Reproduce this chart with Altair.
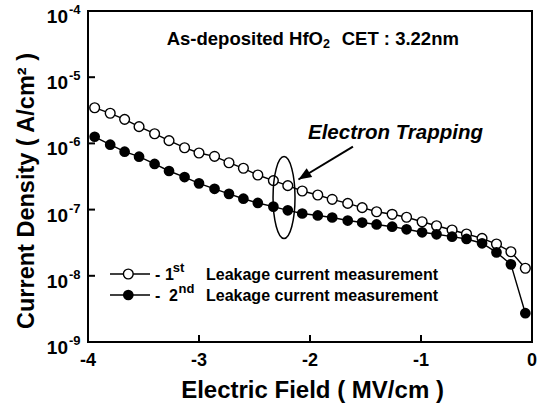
import altair as alt
import pandas as pd

# ---------------- data ----------------
field = [-3.94, -3.80, -3.67, -3.54, -3.40, -3.27, -3.13, -3.00, -2.86, -2.73,
         -2.60, -2.47, -2.33, -2.20, -2.07, -1.93, -1.80, -1.66, -1.53, -1.40,
         -1.26, -1.13, -0.99, -0.86, -0.72, -0.59, -0.45, -0.32, -0.19, -0.06]
j_first = [3.46e-6, 2.85e-6, 2.31e-6, 1.79e-6, 1.40e-6, 1.10e-6, 8.61e-7, 7.16e-7, 6.38e-7, 5.11e-7,
           4.21e-7, 3.33e-7, 2.74e-7, 2.30e-7, 1.91e-7, 1.66e-7, 1.43e-7, 1.24e-7, 1.07e-7, 9.29e-8,
           8.49e-8, 7.66e-8, 6.56e-8, 5.71e-8, 4.92e-8, 4.28e-8, 3.68e-8, 3.02e-8, 2.31e-8, 1.30e-8]
j_second = [1.26e-6, 9.55e-7, 7.50e-7, 6.30e-7, 4.89e-7, 3.83e-7, 3.10e-7, 2.49e-7, 2.06e-7, 1.73e-7,
            1.46e-7, 1.26e-7, 1.11e-7, 9.75e-8, 8.73e-8, 8.15e-8, 7.60e-8, 6.84e-8, 6.38e-8, 5.96e-8,
            5.52e-8, 5.04e-8, 4.54e-8, 4.24e-8, 3.90e-8, 3.60e-8, 3.10e-8, 2.26e-8, 1.49e-8, 2.72e-9]

x_ticks = [-4, -3, -2, -1, 0]
x_tick_labels = ["-4", "-3", "-2", "-1", "0"]
y_ticks = [1e-4, 1e-5, 1e-6, 1e-7, 1e-8, 1e-9]
y_tick_base = ["10", "10", "10", "10", "10", "10"]
y_tick_exp = ["-4", "-5", "-6", "-7", "-8", "-9"]

# annotation anchors (data coordinates)
ellipse_at = {"E": [-2.234], "J": [1.52e-7]}
arrow_from = {"E": [-1.613], "J": [8.97e-7]}
arrow_to = {"E": [-2.104], "J": [2.85e-7]}

FONT = "Liberation Sans"
W, H = 444, 331

xs = alt.Scale(domain=[-4, 0], nice=False, zero=False)
ys = alt.Scale(type="log", domain=[1e-9, 1e-4], nice=False)


def X(f):
    return alt.X(f, type="quantitative", scale=xs, axis=None)


def Y(f):
    return alt.Y(f, type="quantitative", scale=ys, axis=None)


df = pd.DataFrame({"E": field, "J1": j_first, "J2": j_second})
base = alt.Chart(df)

line1 = base.mark_line(color="black", strokeWidth=1.4).encode(x=X("E"), y=Y("J1"))
pts1 = base.mark_point(shape="circle", filled=True, fill="white", stroke="black",
                       strokeWidth=1.4, size=95, opacity=1).encode(x=X("E"), y=Y("J1"))
line2 = base.mark_line(color="black", strokeWidth=1.4).encode(x=X("E"), y=Y("J2"))
pts2 = base.mark_point(shape="circle", filled=True, color="black",
                       size=115, opacity=1).encode(x=X("E"), y=Y("J2"))

# inward ticks
xt_df = pd.DataFrame({"v": x_ticks, "lab": x_tick_labels})
yt_df = pd.DataFrame({"J": y_ticks, "b": y_tick_base, "e": y_tick_exp})

xtick = alt.Chart(xt_df).mark_rule(color="black", strokeWidth=2).encode(
    x=X("v"), y=alt.value(H), y2=alt.value(H - 7))
ytick = alt.Chart(yt_df).mark_rule(color="black", strokeWidth=2).encode(
    y=Y("J"), x=alt.value(0), x2=alt.value(7))

xlab = alt.Chart(xt_df).mark_text(font=FONT, fontWeight="bold", fontSize=18, align="center",
                                  baseline="alphabetic", color="black").encode(
    x=X("v"), y=alt.value(H + 24), text="lab:N")
ylab_b = alt.Chart(yt_df).mark_text(font=FONT, fontWeight="bold", fontSize=19, align="right",
                                    baseline="alphabetic", dy=12, color="black").encode(
    y=Y("J"), x=alt.value(-20), text="b:N")
ylab_e = alt.Chart(yt_df).mark_text(font=FONT, fontWeight="bold", fontSize=13, align="left",
                                    baseline="alphabetic", dy=3, color="black").encode(
    y=Y("J"), x=alt.value(-19), text="e:N")

# axis titles
xtitle = alt.Chart(pd.DataFrame({"t": ["Electric Field ( MV/cm )"]})).mark_text(
    font=FONT, fontWeight="bold", fontSize=24, align="center", baseline="alphabetic",
    color="black").encode(x=alt.value(224.5), y=alt.value(387), text="t:N")
ytitle = alt.Chart(pd.DataFrame({"t": ["Current Density ( A/cm\u00b2 )"]})).mark_text(
    font=FONT, fontWeight="bold", fontSize=23.5, align="center", baseline="alphabetic",
    angle=270, color="black").encode(x=alt.value(-54), y=alt.value(180), text="t:N")


def txt(s, x, y, size, **kw):
    return alt.Chart(pd.DataFrame({"t": [s]})).mark_text(
        font=FONT, fontWeight="bold", fontSize=size, align="left", baseline="alphabetic",
        color="black", **kw).encode(x=alt.value(x), y=alt.value(y), text="t:N")


# header annotation
head1 = txt("As-deposited HfO", 78.7, 34, 18.5)
head2 = txt("2", 235, 37, 12.5)
head3 = txt("CET : 3.22nm", 253.7, 34, 18.5)

trap = txt("Electron Trapping", 220, 128.3, 20.5, fontStyle="italic")

# ellipse and arrow
ell_path = "M 0 -1 A 0.268 1 0 1 1 0 1 A 0.268 1 0 1 1 0 -1 Z"
ellipse = alt.Chart(pd.DataFrame(ellipse_at)).mark_point(
    shape=ell_path, size=6724, filled=False, stroke="black", strokeWidth=1.5, opacity=1).encode(
    x=X("E"), y=Y("J"))

arr_df = pd.DataFrame({"E": arrow_from["E"], "J": arrow_from["J"],
                       "E2": arrow_to["E"], "J2": arrow_to["J"]})
arrow_line = alt.Chart(arr_df).mark_rule(color="black", strokeWidth=2).encode(
    x=X("E"), y=Y("J"), x2="E2:Q", y2="J2:Q")
arrow_head = alt.Chart(pd.DataFrame(arrow_to)).mark_point(
    shape="M 0 0 L 0.4 1 L -0.4 1 Z", size=676, filled=True, color="black", opacity=1,
    angle=237.6).encode(x=X("E"), y=Y("J"))

# legend
leg_y1, leg_y2 = 263, 284
leg_l1 = alt.Chart(pd.DataFrame({"a": [0]})).mark_rule(color="black", strokeWidth=1.4).encode(
    x=alt.value(22), x2=alt.value(62), y=alt.value(leg_y1))
leg_l2 = alt.Chart(pd.DataFrame({"a": [0]})).mark_rule(color="black", strokeWidth=1.4).encode(
    x=alt.value(22), x2=alt.value(62), y=alt.value(leg_y2))
leg_p1 = alt.Chart(pd.DataFrame({"a": [0]})).mark_point(
    shape="circle", filled=True, fill="white", stroke="black", strokeWidth=1.4, size=95,
    opacity=1).encode(x=alt.value(40.3), y=alt.value(leg_y1))
leg_p2 = alt.Chart(pd.DataFrame({"a": [0]})).mark_point(
    shape="circle", filled=True, color="black", size=115, opacity=1).encode(
    x=alt.value(40.3), y=alt.value(leg_y2))

leg_texts = [
    txt("-", 67, leg_y1 + 5.5, 16), txt("1", 77, leg_y1 + 5.5, 16),
    txt("st", 84.7, leg_y1 - 2.5, 13), txt("Leakage current measurement", 118, leg_y1 + 5.5, 16),
    txt("-", 67, leg_y2 + 5.5, 16), txt("2", 81, leg_y2 + 5.5, 16),
    txt("nd", 90.5, leg_y2 - 2.5, 13), txt("Leakage current measurement", 118, leg_y2 + 5.5, 16),
]

chart = alt.layer(
    line1, pts1, line2, pts2, xtick, ytick, xlab, ylab_b, ylab_e, xtitle, ytitle,
    head1, head2, head3, trap, ellipse, arrow_line, arrow_head,
    leg_l1, leg_l2, leg_p1, leg_p2, *leg_texts
).properties(
    width=W, height=H,
    padding={"left": 88, "top": 11, "right": 12, "bottom": 68},
    autosize=alt.AutoSizeParams(type="none"),
    background="white",
).configure_view(stroke="black", strokeWidth=2)

chart.save("out.html", embed_options={"renderer": "svg", "actions": False})
